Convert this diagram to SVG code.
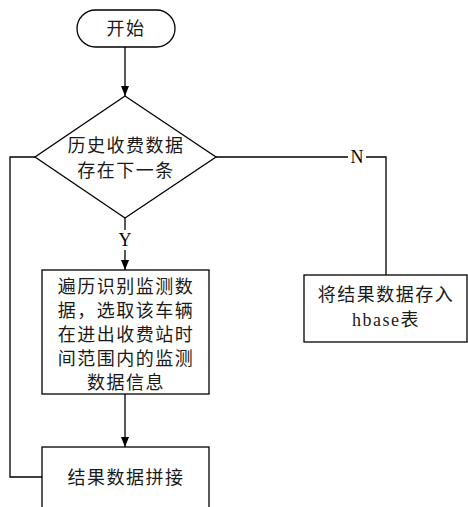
<svg xmlns="http://www.w3.org/2000/svg" width="468" height="507" viewBox="0 0 468 507">
  <style>
    .shape { fill: #ffffff; stroke: #000000; stroke-width: 1.3; }
    .wire { fill: none; stroke: #000000; stroke-width: 1.3; }
    .label { font-family: "Liberation Serif", "Noto Sans CJK SC", serif; font-size: 18px; fill: #1a1a1a; text-anchor: middle; dominant-baseline: central; letter-spacing: 1.5px; }
    .tag { font-family: "Liberation Serif", "Noto Sans CJK SC", serif; font-size: 18px; fill: #000000; text-anchor: middle; dominant-baseline: central; }
  </style>
  <defs>
    <marker id="arrow" markerWidth="10" markerHeight="14" refX="10" refY="5" orient="auto" markerUnits="userSpaceOnUse" viewBox="0 0 10 10">
      <path d="M0,1 L10,5 L0,9 Z" fill="#000000"/>
    </marker>
  </defs>
  <rect width="468" height="507" fill="#ffffff"/>

  <g id="connectors">
    <line class="wire" x1="125" y1="47" x2="125" y2="96" marker-end="url(#arrow)"/>
    <line class="wire" x1="125" y1="218" x2="125" y2="270" marker-end="url(#arrow)"/>
    <line class="wire" x1="125" y1="394" x2="125" y2="447" marker-end="url(#arrow)"/>
    <polyline class="wire" points="216,157 386,157 386,275"/>
    <polyline class="wire" points="42,477 10,477 10,157 35,157"/>
    <rect x="117" y="230" width="16" height="20" fill="#ffffff"/>
    <text class="tag" x="125" y="240">Y</text>
    <rect x="348" y="147" width="18" height="20" fill="#ffffff"/>
    <text class="tag" x="357" y="157">N</text>
  </g>

  <g id="start">
    <rect class="shape" x="77" y="10" width="98" height="37" rx="18.5" ry="18.5"/>
    <text class="label" x="126" y="29">开始</text>
  </g>

  <g id="decision">
    <polygon class="shape" points="125,96 216,157 125,218 35,157"/>
    <text class="label" x="126" y="146">历史收费数据</text>
    <text class="label" x="126" y="171">存在下一条</text>
  </g>

  <g id="scan">
    <rect class="shape" x="42" y="270" width="167" height="124"/>
    <text class="label" x="126" y="287">遍历识别监测数</text>
    <text class="label" x="126" y="311">据，选取该车辆</text>
    <text class="label" x="126" y="335">在进出收费站时</text>
    <text class="label" x="126" y="359">间范围内的监测</text>
    <text class="label" x="126" y="383">数据信息</text>
  </g>

  <g id="merge">
    <rect class="shape" x="42" y="447" width="167" height="80"/>
    <text class="label" x="126" y="478">结果数据拼接</text>
  </g>

  <g id="store">
    <rect class="shape" x="304" y="275" width="163" height="67"/>
    <text class="label" x="386" y="295">将结果数据存入</text>
    <text class="label" x="386" y="320">hbase表</text>
  </g>
</svg>
